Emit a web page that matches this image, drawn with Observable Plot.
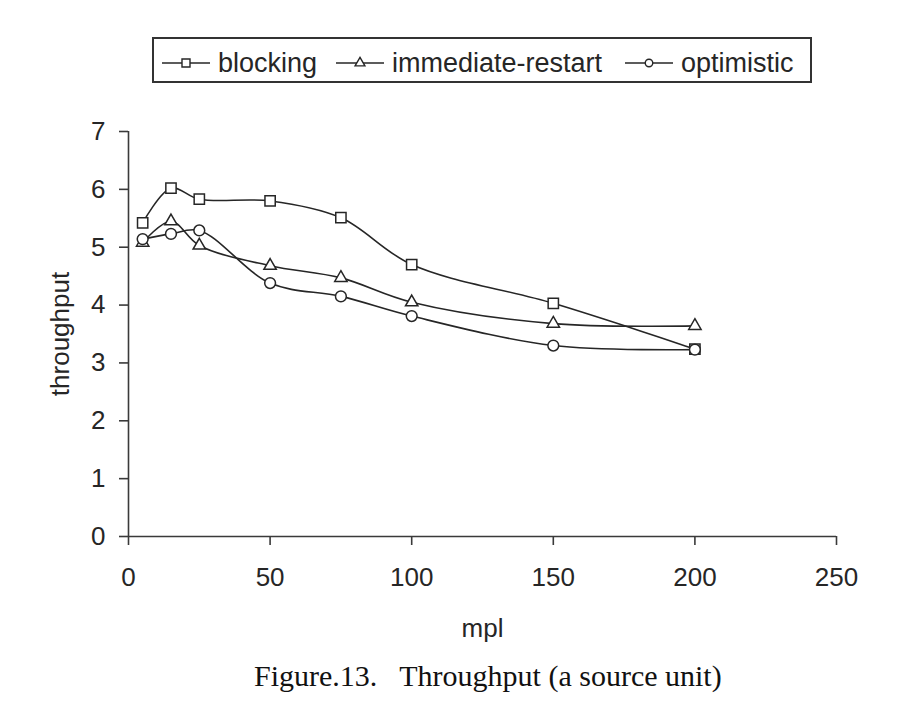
<!DOCTYPE html>
<html>
<head>
<meta charset="utf-8">
<script src="https://cdn.jsdelivr.net/npm/d3@7"></script>
<script src="https://cdn.jsdelivr.net/npm/@observablehq/plot@0.6"></script>
<style>
  html, body { margin: 0; padding: 0; background: #fff; }
  #wrap { position: relative; width: 914px; height: 707px; overflow: hidden; font-family: "Liberation Sans", Arial, sans-serif; color: #262626; }
  #legend { position: absolute; left: 152px; top: 37px; width: 656px; height: 42px; border: 2px solid #333; }
  .item { position: absolute; top: 3px; height: 42px; display: flex; align-items: center; font-size: 27px; }
  .item svg { margin-right: 8px; }
  #chart { position: absolute; left: 0; top: 100px; }
  #caption { position: absolute; left: 254px; top: 659px; font-family: "Liberation Serif", "Times New Roman", serif; font-size: 30px; color: #111; white-space: pre; }
</style>
</head>
<body>
<div id="wrap">
  <div id="legend"></div>
  <div id="chart"></div>
  <div id="caption">Figure.13.   Throughput (a source unit)</div>
</div>
<script>
const mpl = [5, 15, 25, 50, 75, 100, 150, 200];
const blocking = [5.42, 6.02, 5.83, 5.80, 5.51, 4.70, 4.03, 3.24];
const immediateRestart = [5.08, 5.45, 5.03, 4.68, 4.47, 4.05, 3.68, 3.64];
const optimistic = [5.14, 5.23, 5.29, 4.38, 4.15, 3.81, 3.30, 3.23];
const seriesNames = ["blocking", "immediate-restart", "optimistic"];
const seriesSymbols = ["square", "triangle", "circle"];
const xTicks = [0, 50, 100, 150, 200, 250];
const yTicks = [0, 1, 2, 3, 4, 5, 6, 7];

const seriesValues = [blocking, immediateRestart, optimistic];
const data = seriesNames.map((name, k) => mpl.map((x, i) => ({series: name, mpl: x, throughput: seriesValues[k][i]})));

const ink = "#262626";
const markR = {square: 5.8, triangle: 4.6, circle: 5.4};

const marks = [];
data.forEach((d, k) => {
  marks.push(Plot.line(d, {x: "mpl", y: "throughput", curve: "catmull-rom", stroke: ink, strokeWidth: 1.6}));
});
data.forEach((d, k) => {
  const s = seriesSymbols[k];
  marks.push(Plot.dot(d, {x: "mpl", y: "throughput", symbol: () => s, r: markR[s], fill: "white", stroke: ink, strokeWidth: 1.5}));
});

const plot = Plot.plot({
  width: 914,
  height: 550,
  marginTop: 31,
  marginBottom: 114,
  marginLeft: 128,
  marginRight: 78,
  style: {fontFamily: "Liberation Sans, Arial, sans-serif", fontSize: "26px", color: ink, background: "white", overflow: "visible"},
  x: {domain: [0, 250]},
  y: {domain: [0, 7]},
  symbol: {type: "identity"},
  marks: [
    ...marks,
    Plot.ruleX([0], {stroke: "#3a3a3a", strokeWidth: 1.6}),
    Plot.ruleY([0], {stroke: "#3a3a3a", strokeWidth: 1.6}),
    Plot.axisX({ticks: xTicks, tickFormat: "d", tickSize: 9, tickPadding: 22, stroke: "#3a3a3a", strokeWidth: 1.6, label: "mpl", labelAnchor: "center", labelArrow: "none", labelOffset: 100, fontSize: 26}),
    Plot.axisY({ticks: yTicks, tickFormat: "d", tickSize: 9, tickPadding: 14, stroke: "#3a3a3a", strokeWidth: 1.6, label: "throughput", labelAnchor: "center", labelArrow: "none", labelOffset: 78, fontSize: 26})
  ]
});
document.getElementById("chart").appendChild(plot);

// legend
const legend = document.getElementById("legend");
const itemLefts = [8, 182, 471];
seriesNames.forEach((name, k) => {
  const div = document.createElement("div");
  div.className = "item";
  div.style.left = itemLefts[k] + "px";
  const svg = d3.create("svg").attr("width", 48).attr("height", 20);
  svg.append("line").attr("x1", 0).attr("x2", 48).attr("y1", 10).attr("y2", 10).attr("stroke", ink).attr("stroke-width", 1.6);
  const sym = {square: d3.symbolSquare, triangle: d3.symbolTriangle, circle: d3.symbolCircle}[seriesSymbols[k]];
  const size = {square: 64, triangle: 42, circle: 44}[seriesSymbols[k]];
  svg.append("path").attr("d", d3.symbol(sym, size)()).attr("transform", "translate(24,10)").attr("fill", "white").attr("stroke", ink).attr("stroke-width", 1.4);
  div.appendChild(svg.node());
  const span = document.createElement("span");
  span.textContent = name;
  div.appendChild(span);
  legend.appendChild(div);
});
</script>
</body>
</html>
